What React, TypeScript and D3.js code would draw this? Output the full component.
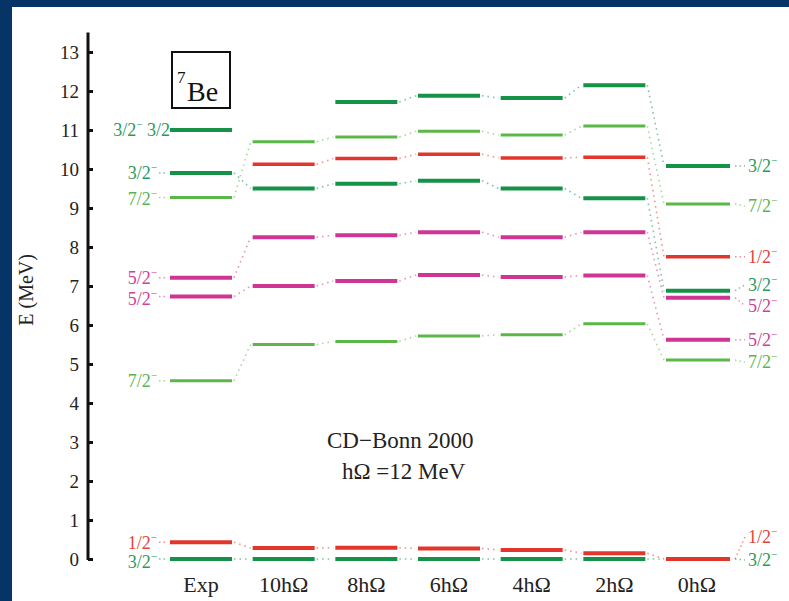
import * as d3 from "d3";
import React from "react";

// columns of the level scheme
const columns = ["Exp", "10hΩ", "8hΩ", "6hΩ", "4hΩ", "2hΩ", "0hΩ"];
const energyTicks = [0, 1, 2, 3, 4, 5, 6, 7, 8, 9, 10, 11, 12, 13];

// level energies (MeV) per column, null = not shown
const lvl32a = [0, 0, 0, 0, 0, 0, 0];
const lvl12a = [0.43, 0.28, 0.29, 0.27, 0.23, 0.15, 0.0];
const lvl72a = [4.57, 5.5, 5.58, 5.72, 5.75, 6.03, 5.1];
const lvl52a = [6.73, 7.0, 7.13, 7.28, 7.23, 7.27, 5.62];
const lvl52b = [7.21, 8.25, 8.3, 8.38, 8.25, 8.38, 6.7];
const lvl32b = [9.9, 9.5, 9.62, 9.7, 9.5, 9.25, 6.88];
const lvl12b = [null, 10.12, 10.27, 10.38, 10.28, 10.3, 7.75];
const lvl72b = [9.27, 10.7, 10.82, 10.97, 10.87, 11.1, 9.1];
const lvl32c = [11.0, null, 11.72, 11.88, 11.82, 12.15, 10.08];

const SERIF = "'Liberation Serif', 'Times New Roman', serif";
const DKGREEN = "#149247";
const LTGREEN = "#5bb748";
const RED = "#e2362c";
const MAGENTA = "#cf3592";

const levels = [
  { values: lvl32a, color: DKGREEN, j: "3/2", left: "3/2", nudge: 1, lnudge: 3, w: 4 },
  { values: lvl12a, color: RED, j: "1/2", left: "1/2", nudge: -22, lnudge: 0, w: 4 },
  { values: lvl72a, color: LTGREEN, j: "7/2", left: "7/2", nudge: 2, lnudge: 0, w: 3 },
  { values: lvl52a, color: MAGENTA, j: "5/2", left: "5/2", nudge: 0, lnudge: 2, w: 4 },
  { values: lvl52b, color: MAGENTA, j: "5/2", left: "5/2", nudge: 8, lnudge: 0, w: 4 },
  { values: lvl32b, color: DKGREEN, j: "3/2", left: "3/2", nudge: -6, lnudge: 0, w: 4 },
  { values: lvl12b, color: RED, j: "1/2", left: null, nudge: 0, lnudge: 0, w: 3.5 },
  { values: lvl72b, color: LTGREEN, j: "7/2", left: "7/2", nudge: 2, lnudge: 1, w: 3 },
  { values: lvl32c, color: DKGREEN, j: "3/2", left: "3/2 3/2", nudge: 0, lnudge: 0, w: 4 },
];

const labelColor = (c: string) =>
  c === DKGREEN ? "#2a9a5c" : c === LTGREEN ? "#5db34e" : c === RED ? "#e0443a" : "#d04098";

function JLabel({ x, y, text, color, anchor }: any) {
  const parts = text.split(" ");
  return (
    <text x={x} y={y} dy="0.35em" fill={color} fontSize={18} textAnchor={anchor}>
      <tspan>{parts[0]}</tspan>
      <tspan dy={-8} fontSize={11}>
        −
      </tspan>
      {parts[1] ? <tspan dy={8}>{" " + parts[1]}</tspan> : null}
    </text>
  );
}

export default function App() {
  const width = 789;
  const height = 601;
  const half = 31;

  const x = d3.scalePoint<string>().domain(columns).range([201, 697]);
  const y = d3.scaleLinear().domain([0, 13]).range([559, 52]);

  const axisRef = React.useRef<SVGGElement>(null);
  React.useEffect(() => {
    const g = d3.select(axisRef.current);
    g.selectAll("*").remove();
    g.call(
      d3
        .axisLeft(y)
        .tickValues(energyTicks)
        .tickFormat(d3.format("d"))
        .tickSizeInner(-5)
        .tickSizeOuter(0)
        .tickPadding(9)
    );
    g.attr("font-family", null).attr("font-size", null);
    g.select(".domain").remove();
    g.selectAll(".tick line").attr("stroke", "#111").attr("stroke-width", 3);
    g.selectAll(".tick text")
      .style("font-family", SERIF)
      .style("font-size", "19px")
      .attr("fill", "#222");
  }, []);

  const last = columns.length - 1;

  return (
    <div style={{ position: "fixed", left: 0, top: 0 }}>
      <svg width={width} height={height} style={{ fontFamily: SERIF, display: "block" }}>
        <rect x={0} y={0} width={width} height={height} fill="#063466" />
        <rect x={12} y={7} width={width - 12} height={height - 7} fill="#ffffff" />

        {/* y axis */}
        <line x1={88} x2={88} y1={y(13.5)} y2={y(0) + 1} stroke="#111" strokeWidth={3} />
        <g ref={axisRef} transform="translate(88,0)" />
        <text
          transform={`translate(33,${y(6.9)}) rotate(-90)`}
          textAnchor="middle"
          fontSize={20}
          fill="#222"
        >
          E (MeV)
        </text>

        {/* column labels */}
        {columns.map((c) => (
          <text key={c} x={x(c)} y={592} textAnchor="middle" fontSize={22} fill="#222">
            {c}
          </text>
        ))}

        {/* connectors */}
        {levels.map((lv, i) =>
          lv.values.slice(0, -1).map((v, k) => {
            const v2 = lv.values[k + 1];
            if (v == null || v2 == null) return null;
            return (
              <line
                key={`c${i}-${k}`}
                x1={x(columns[k])! + half + 2}
                x2={x(columns[k + 1])! - half - 2}
                y1={y(v)}
                y2={y(v2)}
                stroke={lv.color}
                strokeOpacity={0.55}
                strokeWidth={1.6}
                strokeDasharray="1.5,4"
              />
            );
          })
        )}

        {/* levels */}
        {levels.map((lv, i) =>
          lv.values.map((v, k) =>
            v == null ? null : (
              <line
                key={`l${i}-${k}`}
                x1={x(columns[k])! - half}
                x2={x(columns[k])! + half + (k === last ? 2 : 0)}
                y1={y(v)}
                y2={y(v)}
                stroke={lv.color}
                strokeWidth={lv.w}
              />
            )
          )
        )}

        {/* left (Exp) labels */}
        {levels.map((lv, i) => {
          const v = lv.values[0];
          if (v == null || !lv.left) return null;
          const plain = !lv.left.includes(" ");
          return (
            <g key={`ll${i}`}>
              <JLabel
                x={plain ? 157 : 170}
                y={y(v) + lv.lnudge}
                text={lv.left}
                color={labelColor(lv.color)}
                anchor="end"
              />
              {plain ? (
                <line
                  x1={159}
                  x2={168}
                  y1={y(v)}
                  y2={y(v)}
                  stroke={lv.color}
                  strokeOpacity={0.55}
                  strokeWidth={1.5}
                  strokeDasharray="1.5,3"
                />
              ) : null}
            </g>
          );
        })}

        {/* right (0hΩ) labels */}
        {levels.map((lv, i) => {
          const v = lv.values[last];
          if (v == null) return null;
          const ly = y(v) + lv.nudge;
          return (
            <g key={`rl${i}`}>
              <line
                x1={735}
                x2={745}
                y1={y(v)}
                y2={ly}
                stroke={lv.color}
                strokeOpacity={0.55}
                strokeWidth={1.5}
                strokeDasharray="1.5,3"
              />
              <JLabel x={748} y={ly} text={lv.j} color={labelColor(lv.color)} anchor="start" />
            </g>
          );
        })}

        {/* nucleus box */}
        <rect x={172} y={52} width={58} height={56} fill="none" stroke="#111" strokeWidth={2} />
        <text x={177} y={83} fontSize={17} fill="#111">
          7
        </text>
        <text x={187} y={101} fontSize={28} fill="#111">
          Be
        </text>

        {/* interaction annotation */}
        <text x={327} y={448} fontSize={23} fill="#222">
          CD−Bonn 2000
        </text>
        <text x={342} y={479} fontSize={23} fill="#222">
          hΩ =12 MeV
        </text>
      </svg>
    </div>
  );
}
